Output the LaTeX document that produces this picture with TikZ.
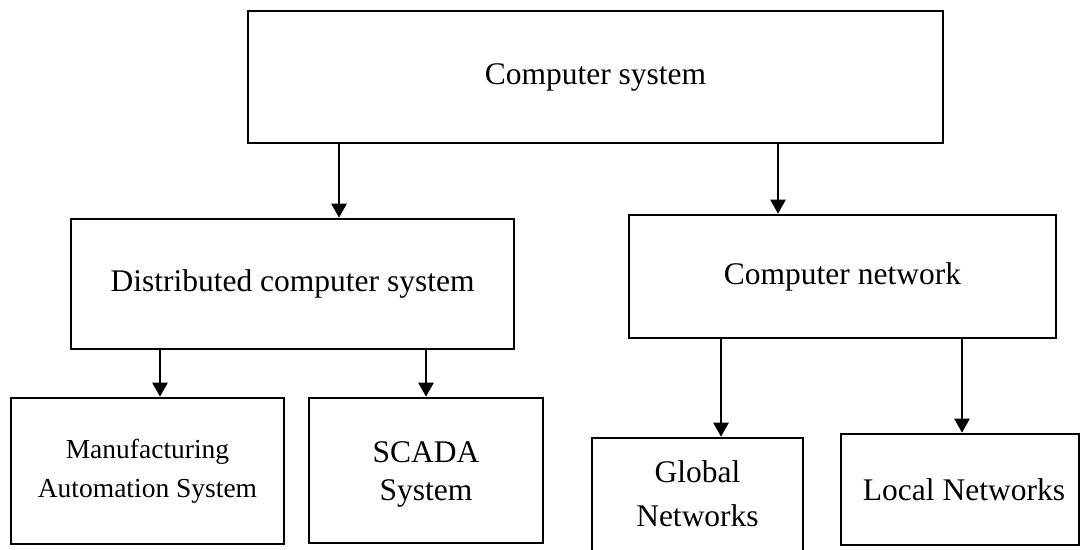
\documentclass[tikz,border=0pt]{standalone}
\usepackage{fontspec}
\setmainfont{Liberation Serif}
\usetikzlibrary{arrows.meta}
\begin{document}
\begin{tikzpicture}[x=1pt,y=-1pt,
  box/.style={draw=black, line width=2.6pt, inner sep=0pt, align=center,
    font=\fontsize{31.5}{38}\selectfont},
  txt/.style={inner sep=0pt, align=center},
  link/.style={line width=2.4pt, -{Triangle[length=14pt,width=15pt]}}]
\useasboundingbox (0,0) rectangle (1081,549);
\clip (0,0) rectangle (1081,549);

% boxes
\node[box, minimum width=695, minimum height=132] (top) at (595.5,77) {Computer system};
\node[box, minimum width=443, minimum height=130] (dist) at (292.5,284) {Distributed computer system};
\node[box, minimum width=427, minimum height=123] (net) at (842.5,276.5) {Computer network};
\node[box, minimum width=273, minimum height=146, font=\fontsize{27.5}{39}\selectfont]
  (manu) at (147.5,471) {Manufacturing\\Automation System};
\node[box, minimum width=234, minimum height=145] (scada) at (426,470.5) {};
\node[txt, font=\fontsize{31.5}{38}\selectfont] (scadatext) at ([yshift=-4pt]scada.center) {SCADA\\System};
\node[box, minimum width=211, minimum height=124] (glob) at (697.5,500) {};
\node[txt, font=\fontsize{31.5}{44}\selectfont] (globtext) at ([yshift=6pt]glob.center) {Global\\Networks};
\node[box, minimum width=238, minimum height=111] (local) at (960,489.5) {};
\node[txt, font=\fontsize{31.5}{38}\selectfont] (localtext) at ([xshift=4pt]local.center) {Local Networks};

% arrow columns
\coordinate (c1) at (339,0);
\coordinate (c2) at (778,0);
\coordinate (c3) at (160,0);
\coordinate (c4) at (426,0);
\coordinate (c5) at (721,0);
\coordinate (c6) at (962,0);

% connectors
\draw[link] (top.south -| c1) -- (dist.north -| c1);
\draw[link] (top.south -| c2) -- (net.north -| c2);
\draw[link] (dist.south -| c3) -- (manu.north -| c3);
\draw[link] (dist.south -| c4) -- (scada.north -| c4);
\draw[link] (net.south -| c5) -- (glob.north -| c5);
\draw[link] (net.south -| c6) -- (local.north -| c6);
\end{tikzpicture}
\end{document}
